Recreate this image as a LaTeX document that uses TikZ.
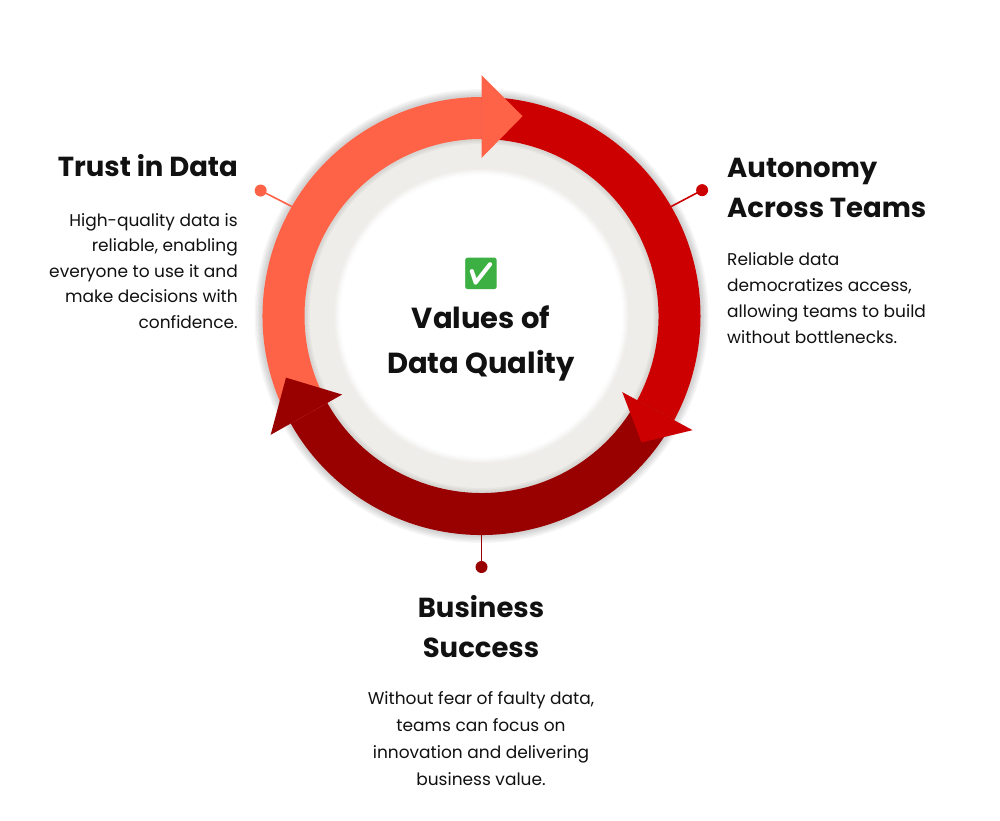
\documentclass[tikz,border=0pt]{standalone}
\usepackage{fontspec}
\setmainfont{Poppins}
\newfontfamily\emojifont{Noto Emoji}
\definecolor{lightarc}{HTML}{FF6347}
\definecolor{redarc}{HTML}{CC0000}
\definecolor{darkarc}{HTML}{990000}
\definecolor{disccol}{HTML}{EEEDEA}
\definecolor{okgreen}{HTML}{3CB043}
\definecolor{txt}{HTML}{111111}
\begin{document}
\begin{tikzpicture}[x=1pt,y=1pt,yscale=-1,
  titlestyle/.style={font={\fontsize{27.5}{40}\selectfont\bfseries}, text=txt, inner sep=0pt},
  bodystyle/.style={font={\fontsize{17}{25.7}\selectfont}, text=txt, inner sep=0pt},
  spoke/.style={line width=1.6pt},
  dotstyle/.style={circle, inner sep=0pt, minimum size=12pt}]
\useasboundingbox (0,0) rectangle (1000,820);
\fill[white] (0,0) rectangle (1000,820);
\begin{scope}[shift={(481.5,316)}]
  \coordinate (c) at (0,0);
  % soft outer shadow
  \foreach \w in {16,13,10,7,4}
    \draw[black, opacity=0.035, line width=\w pt] (c) circle[radius=219];
  % grey disc
  \fill[disccol] (c) circle[radius=178];
  \foreach \w in {10,7,4}
    \draw[black, opacity=0.03, line width=\w pt] (c) circle[radius=177];
  % white inner disc with soft edge
  \foreach \r/\o in {147/0.25,145/0.45,143/0.7}
    \fill[white, opacity=\o] (c) circle[radius=\r];
  \fill[white] (c) circle[radius=141];
  % arc bodies
  \fill[lightarc] (-209.4:219) arc[start angle=-209.4, end angle=-90, radius=219]
     -- (-90:177) arc[start angle=-90, end angle=-209.4, radius=177] -- cycle;
  \fill[redarc] (-90:219) arc[start angle=-90, end angle=28.4, radius=219]
     -- (28.4:177) arc[start angle=28.4, end angle=-90, radius=177] -- cycle;
  \fill[darkarc] (28.4:219) arc[start angle=28.4, end angle=150.6, radius=219]
     -- (150.6:177) arc[start angle=150.6, end angle=28.4, radius=177] -- cycle;
  % arrowheads
  \fill[lightarc] (-90:158) -- (-90:241) -- (-78.4:204) -- cycle;
  \fill[redarc] (28.4:160) -- (28.4:240) -- (38.3:204) -- cycle;
  \fill[darkarc] (150.6:160) -- (150.6:242) -- (162.5:205) -- cycle;
  % spokes
  \coordinate (r1) at (-150:219);
  \coordinate (r2) at (-30:219);
  \coordinate (r3) at (90:219);
  \node[dotstyle, fill=lightarc] (d1) at (-150.4:254) {};
  \node[dotstyle, fill=redarc] (d2) at (-29.7:254) {};
  \node[dotstyle, fill=darkarc] (d3) at (90:251) {};
  \draw[spoke, lightarc] (d1.center) -- (r1);
  \draw[spoke, redarc] (d2.center) -- (r2);
  \draw[spoke, darkarc] (d3.center) -- (r3);
\end{scope}
% centre
\node[text=okgreen, font={\emojifont\fontsize{31}{31}\selectfont}, inner sep=0pt] (emo) at (481,274) {✅};
\node[font={\fontsize{29}{45}\selectfont\bfseries}, text=txt, inner sep=0pt, align=center, anchor=base] (ctitle) at (481,373) {Values of\\Data Quality};
% Trust in Data
\node[titlestyle, anchor=base east] (t1) at (238,176) {Trust in Data};
\node[bodystyle, font={\fontsize{17}{25.5}\selectfont}, align=right, anchor=base east] (b1) at (238,328) {High-quality data is\\reliable, enabling\\everyone to use it and\\make decisions with\\confidence.};
% Autonomy
\node[titlestyle, align=left, anchor=base west] (t2) at (727,217) {Autonomy\\Across Teams};
\node[bodystyle, align=left, anchor=base west] (b2) at (727,343) {Reliable data\\democratizes access,\\allowing teams to build\\without bottlenecks.};
% Business
\node[titlestyle, align=center, anchor=base] (t3) at (481,657) {Business\\Success};
\node[bodystyle, font={\fontsize{17}{26.7}\selectfont}, align=center, anchor=base] (b3) at (481,785) {Without fear of faulty data,\\teams can focus on\\innovation and delivering\\business value.};
\end{tikzpicture}
\end{document}
